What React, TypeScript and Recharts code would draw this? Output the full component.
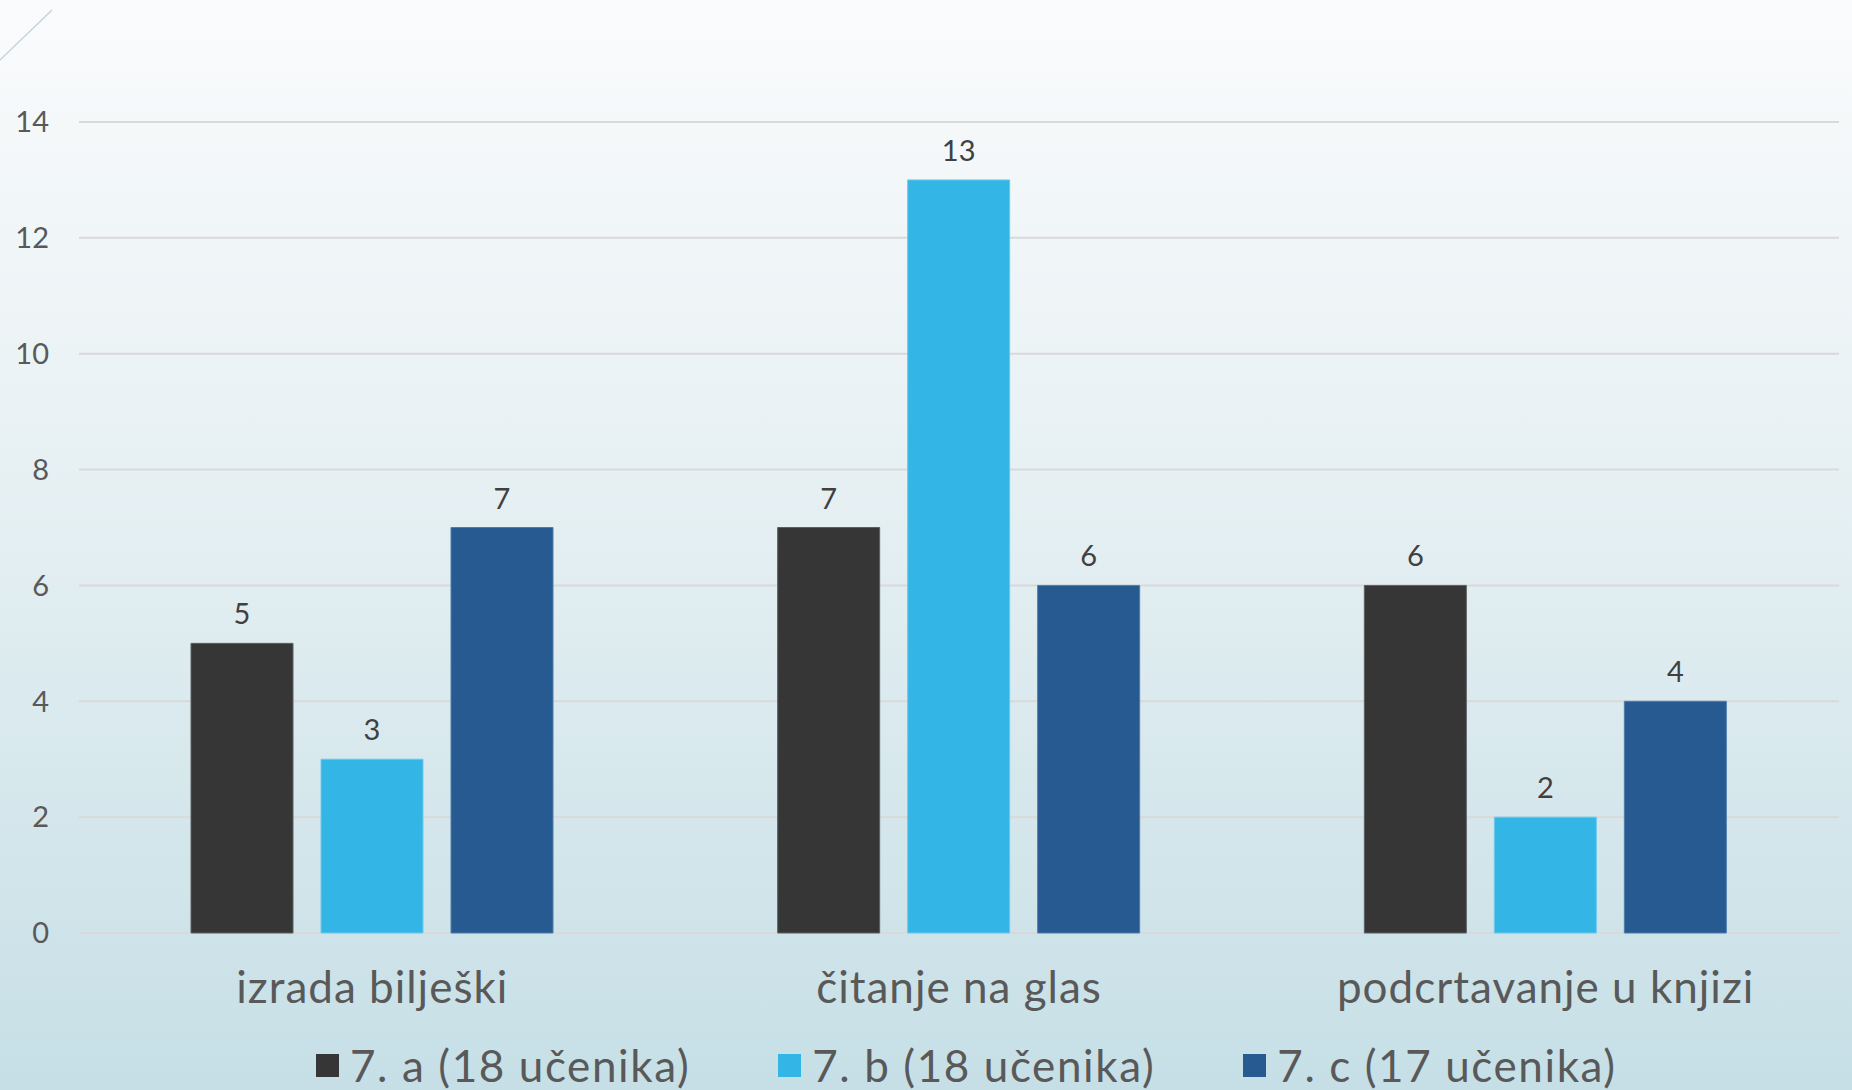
import { BarChart, Bar, XAxis, YAxis, CartesianGrid, Legend, LabelList } from 'recharts';

const categories = ['izrada bilješki', 'čitanje na glas', 'podcrtavanje u knjizi'];
const classA = [5, 7, 6];
const classB = [3, 13, 2];
const classC = [7, 6, 4];
const seriesNames = ['7. a (18 učenika)', '7. b (18 učenika)', '7. c (17 učenika)'];
const yTicks = [0, 2, 4, 6, 8, 10, 12, 14];

const COLORS = ['#363636', '#33b5e5', '#265a91'];
const STROKES = ['#5e5e5e', '#6cc9ec', '#4f7cab'];
const FONT = 'Lato, "DejaVu Sans", sans-serif';

const data = categories.map((name, i) => ({
  name,
  a: classA[i],
  b: classB[i],
  c: classC[i],
}));

const CategoryTick = ({ x, y, payload }: any) => (
  <text
    x={x}
    y={y + 62}
    textAnchor="middle"
    fill="#595959"
    fontSize={44}
    letterSpacing={1}
    fontFamily={FONT}
  >
    {payload.value}
  </text>
);

const LegendContent = () => (
  <div
    style={{
      height: 50,
      display: 'flex',
      justifyContent: 'flex-start',
      alignItems: 'center',
      gap: 88,
      fontFamily: FONT,
      fontSize: 44,
      letterSpacing: 1.6,
      color: '#595959',
      paddingLeft: 316,
    }}
  >
    {seriesNames.map((n, i) => (
      <div key={n} style={{ display: 'flex', alignItems: 'center' }}>
        <span style={{ width: 23, height: 23, background: COLORS[i], marginRight: 11, display: 'inline-block' }} />
        <span>{n}</span>
      </div>
    ))}
  </div>
);

const App = () => {
  const keys = ['a', 'b', 'c'];
  return (
    <div
      style={{
        position: 'absolute',
        left: 0,
        top: 0,
        width: 1852,
        height: 1090,
        background: 'linear-gradient(to bottom, #fafbfc 0%, #e6f0f3 45%, #c6dfe6 100%)',
        overflow: 'hidden',
      }}
    >
      <svg width={1852} height={1090} style={{ position: 'absolute', left: 0, top: 0 }}>
        <line x1={0} y1={60} x2={52} y2={10} stroke="#c5d5db" strokeWidth={1.5} />
      </svg>
      <BarChart
        width={1852}
        height={1090}
        data={data}
        margin={{ top: 122, right: 13, bottom: 0, left: 0 }}
        barCategoryGap={112}
        barGap={28}
      >
        <CartesianGrid vertical={false} stroke="#d9d9d9" strokeWidth={2} />
        <XAxis
          dataKey="name"
          axisLine={false}
          tickLine={false}
          height={107}
          tick={<CategoryTick />}
          interval={0}
        />
        <YAxis
          domain={[0, 14]}
          ticks={yTicks}
          width={79}
          axisLine={false}
          tickLine={false}
          tickMargin={24}
          tick={{ fill: '#595959', fontSize: 29, fontFamily: FONT }}
        />
        <Legend verticalAlign="bottom" content={<LegendContent />} />
        {keys.map((k, i) => (
          <Bar
            key={k}
            dataKey={k}
            name={seriesNames[i]}
            fill={COLORS[i]}
            stroke={STROKES[i]}
            strokeWidth={1}
            isAnimationActive={false}
          >
            <LabelList dataKey={k} position="top" offset={19} fill="#404040" fontSize={29} fontFamily={FONT} />
          </Bar>
        ))}
      </BarChart>
    </div>
  );
};

export default App;
